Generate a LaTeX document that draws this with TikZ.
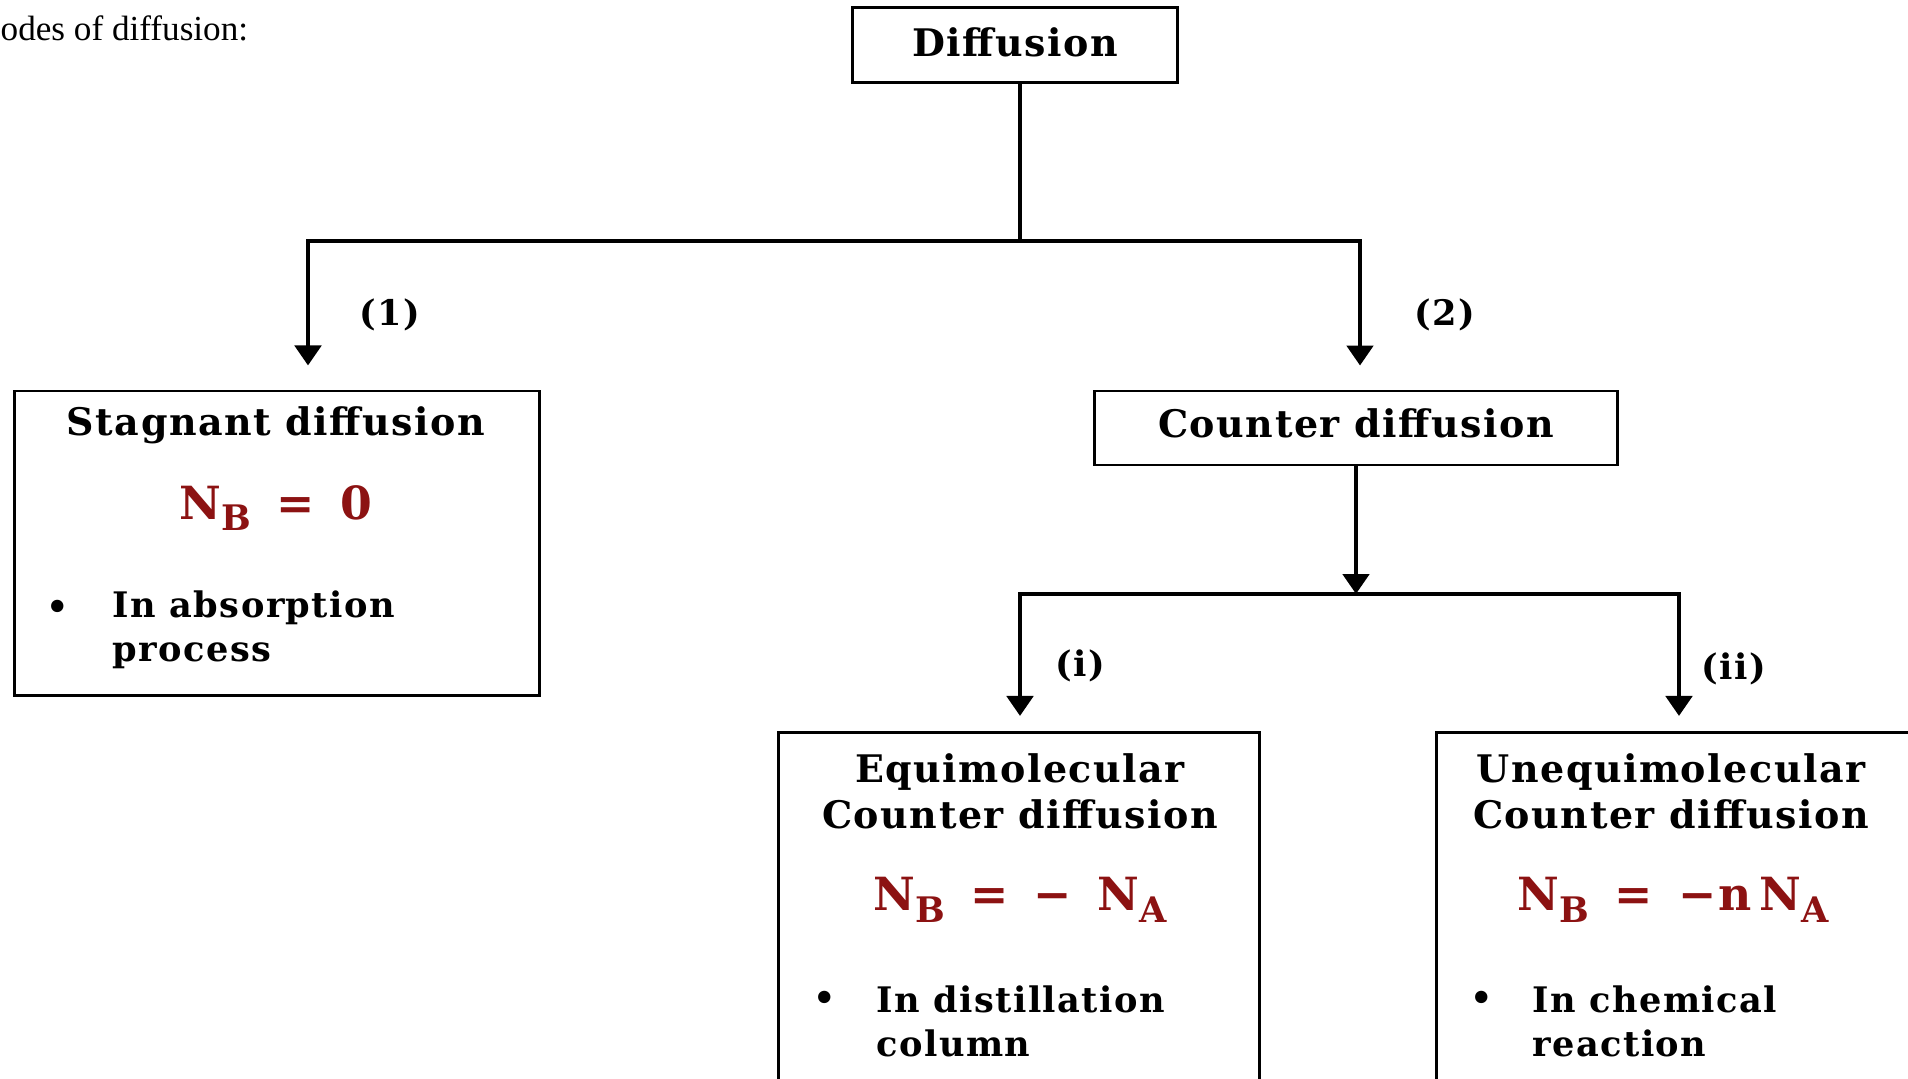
\documentclass[tikz,border=0pt]{standalone}
\usepackage{fontspec}
\setmainfont{Liberation Serif}
\newfontfamily\boxfont{DejaVu Serif}[LetterSpace=4]
\usetikzlibrary{arrows.meta,positioning}
\definecolor{eqred}{RGB}{140,18,18}
\newcommand\sub[1]{\raisebox{-0.25em}{\fontsize{10}{10}\selectfont #1}}

\tikzset{
  box/.style={draw, line width=0.8pt, inner sep=0pt},
  title/.style={font=\boxfont\bfseries\fontsize{10.8}{13}\selectfont, align=center, inner sep=0pt},
  formula/.style={font=\boxfont\bfseries\fontsize{13}{15}\selectfont, text=eqred, inner sep=0pt},
  item/.style={font=\boxfont\bfseries\fontsize{10}{12.5}\selectfont, align=left, anchor=west, inner sep=0pt},
  tag/.style={font=\boxfont\bfseries\fontsize{10}{12}\selectfont, inner sep=0pt},
  branch/.style={line width=1.4pt, line cap=rect},
  arrow/.style={branch, -{Triangle[width=0.26cm, length=0.2cm]}},
}

\begin{document}
\begin{tikzpicture}[x=0.01cm, y=-0.01cm]
    \useasboundingbox (0,0) rectangle (1908,1078);
    \clip (0,0) rectangle (1908,1078);

    % heading
    \node[anchor=base west, font=\fontsize{10}{12}\selectfont, inner sep=0pt] (heading) at (0,40) {odes of diffusion:};

    % boxes
    \node[box, title, text depth=0.06cm, minimum width=3.25cm, minimum height=0.75cm] (diff) at (1015,45) {Diffusion};
    \node[box, minimum width=5.25cm, minimum height=3.04cm] (stag) at (277,543) {};
    \node[box, title, text depth=0.09cm, minimum width=5.23cm, minimum height=0.74cm] (cnt) at (1356,428) {Counter diffusion};
    \node[box, minimum width=4.80cm, minimum height=3.67cm] (equi) at (1019,916) {};
    \node[box, minimum width=5.13cm, minimum height=3.67cm] (unequi) at (1693,916) {};

    % contents of the boxes
    \node[title] (stagT) at (276,425) {Stagnant diffusion};
    \node[formula] (stagF) at (276,508) {N\sub{B}\ \,=\ \,0};
    \node[tag] (stagB) at (58,610) {•};
    \node[item] (stagI) at (112,630) {In absorption\\process};

    \node[title] (equiT) at (1020,791) {Equimolecular\\Counter diffusion};
    \node[formula] (equiF) at (1020,900) {N\sub{B}\ \,=\ \,−\ \,N\sub{A}};
    \node[tag] (equiB) at (825,1001) {•};
    \node[item] (equiI) at (876,1021) {In distillation\\column};

    \node[title] (unequiT) at (1671,791) {Unequimolecular\\Counter diffusion};
    \node[formula] (unequiF) at (1673,900) {N\sub{B}\ \,=\ \,−n\,N\sub{A}};
    \node[tag] (unequiB) at (1482,1001) {•};
    \node[item] (unequiI) at (1532,1021) {In chemical\\reaction};

    % labels of the branches
    \node[tag] (one) at (390,315) {(1)};
    \node[tag] (two) at (1445,315) {(2)};
    \node[tag] (roman1) at (1080,666) {(i)};
    \node[tag] (roman2) at (1734,669) {(ii)};

    % connectors
    \coordinate (trunk) at (1020,241);
    \coordinate (forkL) at (308,241);
    \coordinate (forkR) at (1360,241);
    \coordinate (forkEq) at (1020,594);
    \coordinate (forkUn) at (1679,594);

    \draw[branch] (trunk |- diff.south) -- (trunk);
    \draw[branch] (forkL) -- (forkR);
    \draw[arrow, shorten >=0.24cm] (forkL) -- (forkL |- stag.north);
    \draw[arrow, shorten >=0.24cm] (forkR) -- (forkR |- cnt.north);

    \draw[arrow] (cnt.south) -- (cnt.south |- forkEq);
    \draw[branch] (forkEq) -- (forkUn);
    \draw[arrow, shorten >=0.15cm] (forkEq) -- (forkEq |- equi.north);
    \draw[arrow, shorten >=0.15cm] (forkUn) -- (forkUn |- unequi.north);
\end{tikzpicture}
\end{document}
